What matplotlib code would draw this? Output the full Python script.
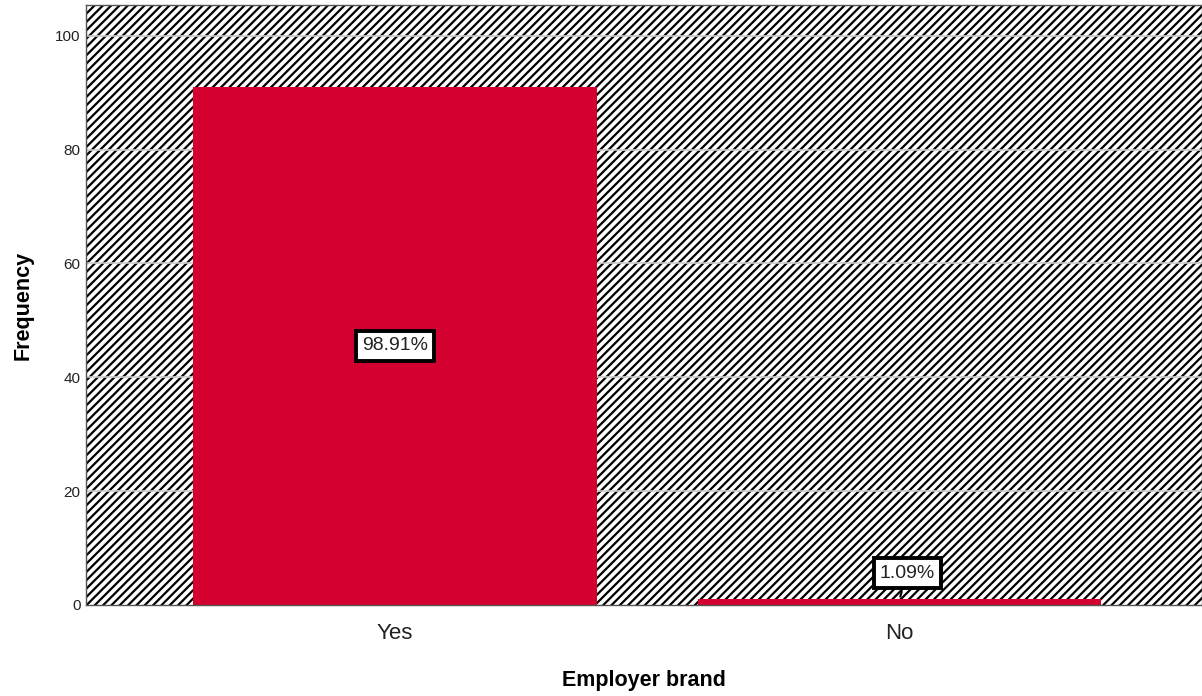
import matplotlib.pyplot as plt
from matplotlib.patches import Rectangle

categories = ["Yes", "No"]
counts = [91, 1]
percent_labels = ["98.91%", "1.09%"]
yticks = [0, 20, 40, 60, 80, 100]

plt.rcParams['font.family'] = ['Liberation Sans', 'DejaVu Sans']
plt.rcParams['hatch.linewidth'] = 1.6

fig = plt.figure(figsize=(12.02, 6.96), dpi=100)
ax = fig.add_axes([86 / 1202, 91 / 696, 1116 / 1202, 600 / 696])

# striped background
bg = Rectangle((0, 0), 1, 1, transform=ax.transAxes, facecolor='white',
               edgecolor='black', hatch='////', linewidth=0, zorder=0)
ax.add_patch(bg)

for t in yticks[1:]:
    ax.axhline(t, color='#cccccc', lw=1.2, zorder=1)

x = list(range(len(categories)))
ax.bar(x, counts, width=0.8, color='#d4002f', zorder=2)

box = dict(boxstyle='square,pad=0.32', facecolor='white',
           edgecolor='black', linewidth=2.8)

# percentage labels
ax.text(x[0], counts[0] / 2, percent_labels[0], ha='center', va='center',
        fontsize=14, color='#222222', zorder=4, bbox=box)
ax.annotate(percent_labels[1], xy=(x[1], counts[1]), xytext=(x[1] + 0.016, counts[1] + 4.6),
            ha='center', va='center', fontsize=14, color='#222222', zorder=4,
            bbox=box, arrowprops=dict(arrowstyle='-', color='black', lw=1.5))

ax.set_xlim(-0.613, 1.6)
ax.set_ylim(0, 105.4)
ax.set_xticks(x)
ax.set_xticklabels(categories, fontsize=16, color='#222222')
ax.set_yticks(yticks)
ax.set_yticklabels([str(t) for t in yticks], fontsize=11, color='#222222')
ax.tick_params(axis='both', length=0, pad=4)
ax.tick_params(axis='x', pad=13)

for side in ['left', 'bottom', 'top', 'right']:
    ax.spines[side].set_color('#555555')
    ax.spines[side].set_linewidth(1.0)

ax.set_ylabel("Frequency", fontsize=15.5, fontweight='bold', labelpad=15)
ax.set_xlabel("Employer brand", fontsize=15.5, fontweight='bold', labelpad=19)

fig.savefig("out.png", dpi=100)
